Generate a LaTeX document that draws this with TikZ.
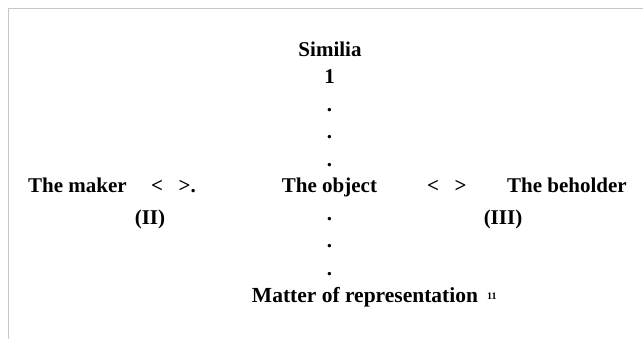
\documentclass[tikz,border=0pt]{standalone}
\usepackage{fontspec}
\setmainfont{Liberation Serif}
\tikzset{
  lbl/.style={inner sep=0pt, anchor=base, font=\bfseries\fontsize{21}{25}\selectfont},
  pt/.style={lbl, font=\bfseries\fontsize{21}{25}\selectfont},
  frameline/.style={draw=black!22, line width=1.3pt}
}
\begin{document}
\begin{tikzpicture}[x=1pt, y=1pt]
            \useasboundingbox (0,0) rectangle (643,-339);
            \draw[frameline] (8.5,-339) -- (8.5,-8.5) -- (643,-8.5);

            \node[lbl] (simil) at (330,-57) {Similia};
            \node[lbl] (one) at (329.5,-84) {1};
            \node[pt] (dotA) at (329.5,-112) {.};
            \node[pt] (dotB) at (329.5,-139) {.};
            \node[pt] (dotC) at (329.5,-166.5) {.};

            \node[lbl, anchor=base west] (maker) at (28,-193) {The maker};
            \node[lbl, anchor=base west] (linkL) at (151,-193) {<\hspace{15.5pt}>.};
            \node[lbl] (object) at (329.5,-193) {The object};
            \node[lbl, anchor=base west] (linkR) at (427,-193) {<\hspace{15.5pt}>};
            \node[lbl, anchor=base west] (beholder) at (507,-193) {The beholder};

            \node[lbl] (two) at (150,-225) {(II)};
            \node[lbl] (three) at (503,-225) {(III)};

            \node[pt] (dotD) at (329.5,-221) {.};
            \node[pt] (dotE) at (329.5,-248) {.};
            \node[pt] (dotF) at (329.5,-276) {.};

            \node[lbl, font=\bfseries\fontsize{21.5}{25}\selectfont] (matter) at (365,-303) {Matter of representation};
            \node[lbl, anchor=base west, font=\bfseries\fontsize{10}{12}\selectfont] (fnmark) at (487,-299) {11};
\end{tikzpicture}
\end{document}
